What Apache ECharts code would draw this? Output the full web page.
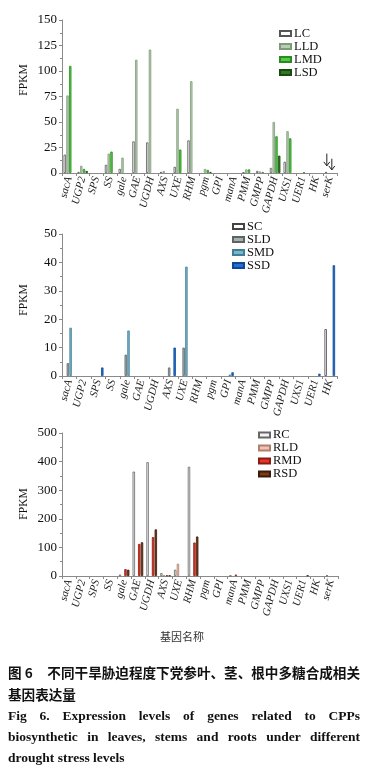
<!DOCTYPE html>
<html>
<head>
<meta charset="utf-8">
<script src="https://cdn.jsdelivr.net/npm/echarts@6/dist/echarts.min.js"></script>
<style>
html,body{margin:0;padding:0;background:#fff;}
#c{width:372px;height:768px;}
</style>
</head>
<body>
<div id="c"></div>
<script>
// ---------- data ----------
const categories = ['sacA','UGP2','SPS','SS','gale','GAE','UGDH','AXS','UXE','RHM','pgm','GPI','manA','PMM','GMPP','GAPDH','UXS1','UER1','HK','serK'];
const stemCategories = ['sacA','UGP2','SPS','SS','gale','GAE','UGDH','AXS','UXE','RHM','pgm','GPI','manA','PMM','GMPP','GAPDH','UXS1','UER1','HK'];

// leaves (FPKM)
const LC  = [18, 1, 0, 8, 4, 31, 30, 1, 6, 32, 0, 0, 0, 0.5, 2, 5, 11, 0, 0, 1];
const LLD = [76, 7, 0, 19, 15, 111, 121, 2, 63, 90, 4, 0, 0, 3.5, 1.5, 50, 41, 0, 0, 0];
const LMD = [105, 4, 0, 21, 0, 0, 0, 0, 23, 0, 3, 0, 0, 3.5, 1, 36, 34, 0.5, 0, 0];
const LSD = [0, 2, 0, 0, 0, 0, 0, 0, 0, 0, 1, 0, 0, 0, 0, 17, 0, 0, 0, 0];

// stems (FPKM)
const SC  = [0, 0, 0, 0, 0, 0, 0, 0, 0, 0, 0, 0, 0, 0, 0, 0, 0, 0, 16.5];
const SLD = [4.5, 0, 0, 0, 7.5, 0, 0, 3, 10, 0, 0, 0, 0, 0, 0, 0, 0, 0, 0];
const SMD = [17, 0, 0, 0, 16, 0, 0, 0, 38.5, 0, 0, 0.5, 0, 0, 0, 0, 0, 0, 0];
const SSD = [0, 0, 3, 0, 0, 0, 0, 10, 0, 0, 0, 1.3, 0, 0, 0, 0, 0, 0.8, 39];

// roots (FPKM)
const RC  = [0, 0, 0, 0, 5, 365, 398, 10, 22, 382, 0, 0, 1, 0, 0, 0, 0, 0, 0, 2];
const RLD = [0, 0, 0, 0, 0, 0, 0, 3, 43, 0, 0, 0, 0, 0, 0, 0, 0, 0, 0, 0];
const RMD = [0, 0, 0, 0, 24, 112, 136, 2, 0, 117, 0, 0, 5, 0, 0, 0, 0, 0, 0, 0];
const RSD = [0, 0, 0, 0, 22, 118, 163, 2, 0, 138, 0, 0, 0, 0, 0, 0, 0, 2, 0, 0];

// axis ticks
const leafTicks = {min: 0, max: 150, interval: 25};
const stemTicks = {min: 0, max: 50, interval: 10};
const rootTicks = {min: 0, max: 500, interval: 100};

const yName = 'FPKM';
const xName = '基因名称';
const captionCn1a = '图 6';
const captionCn1b = '不同干旱胁迫程度下党参叶、茎、根中多糖合成相关';
const captionCn2 = '基因表达量';
const captionEn = ['Fig 6.  Expression levels of genes related to CPPs',
                   'biosynthetic in leaves, stems and roots under different',
                   'drought stress levels'];

// ---------- styles ----------
const SERIF = "'Liberation Serif','Times New Roman',serif";
const CJK = "'Noto Sans CJK SC','Noto Sans CJK JP',sans-serif";
const styles = {
  LC:  {color:'#ffffff', borderColor:'#555555'},
  LLD: {color:'#b9cdb3', borderColor:'#7f9a7a'},
  LMD: {color:'#4fcf3f', borderColor:'#2b8a22'},
  LSD: {color:'#2f7a1e', borderColor:'#1b4a10'},
  SC:  {color:'#ffffff', borderColor:'#444444'},
  SLD: {color:'#a7afb0', borderColor:'#5d6466'},
  SMD: {color:'#7db5c9', borderColor:'#3d7f98'},
  SSD: {color:'#1f6fd4', borderColor:'#0e4796'},
  RC:  {color:'#f4f4f4', borderColor:'#666666'},
  RLD: {color:'#f4c3b3', borderColor:'#b0806e'},
  RMD: {color:'#e8342a', borderColor:'#8a1c12'},
  RSD: {color:'#7b3a18', borderColor:'#3a1a08'}
};

const grids = [
  {left: 62, top: 20, width: 275, height: 153},
  {left: 62, top: 234, width: 275, height: 142},
  {left: 62, top: 433, width: 276, height: 143}
];

function xAxis(idx, cats) {
  return {
    type: 'category', gridIndex: idx, data: cats,
    axisLine: {lineStyle: {color: '#8a8a8a', width: 1}},
    axisTick: {show: true, length: 3, lineStyle: {color: '#8a8a8a'}},
    axisLabel: {interval: 0, rotate: 75, margin: 4, fontFamily: SERIF, fontStyle: 'italic', fontSize: 11, color: '#222'}
  };
}
function yAxis(idx, t) {
  return {
    type: 'value', gridIndex: idx, min: t.min, max: t.max, interval: t.interval,
    axisLine: {show: true, lineStyle: {color: '#8a8a8a'}},
    axisTick: {show: true, length: 3, lineStyle: {color: '#8a8a8a'}},
    minorTick: {show: true, splitNumber: 2, length: 2, lineStyle: {color: '#8a8a8a'}},
    splitLine: {show: false},
    axisLabel: {fontFamily: SERIF, fontSize: 13, color: '#111', margin: 5}
  };
}
function bar(name, data, idx) {
  return {
    name: name, type: 'bar', data: data.map(v => (v === 0 ? '-' : v)), xAxisIndex: idx, yAxisIndex: idx,
    barWidth: 2.4, barGap: '14%',
    itemStyle: {color: styles[name].color, borderColor: styles[name].borderColor, borderWidth: 0.8},
    emphasis: {disabled: true}, animation: false
  };
}
function legend(names, left, top, lh) {
  return {
    data: names, orient: 'vertical', left: left, top: top, padding: 0,
    itemWidth: 11, itemHeight: 5, itemGap: 0, icon: 'rect',
    textStyle: {fontFamily: SERIF, fontSize: 12.5, color: '#111', lineHeight: lh, padding: [0, 0, 0, -2]},
    selectedMode: false
  };
}

const chart = echarts.init(document.getElementById('c'), null, {renderer: 'canvas'});

// justified text helper (measures words with canvas)
const mctx = document.createElement('canvas').getContext('2d');
function justified(text, y, x0, x1, font, just) {
  mctx.font = font;
  const words = text.split(/\s+/);
  const widths = words.map(w => mctx.measureText(w).width);
  const total = widths.reduce((a, b) => a + b, 0);
  const spaceW = mctx.measureText(' ').width;
  const gap = just ? (x1 - x0 - total) / (words.length - 1) : spaceW;
  const els = [];
  let x = x0;
  words.forEach((w, i) => {
    els.push({type: 'text', x: x, y: y, style: {text: w, font: font, fill: '#111', align: 'left', verticalAlign: 'middle'}, silent: true});
    x += widths[i] + gap;
  });
  return els;
}

const enFont = "bold 13.5px " + SERIF;
const cnFont = "bold 13.6px " + CJK;
let graphics = [
  {type: 'text', x: 24, y: 80, rotation: Math.PI / 2, style: {text: yName, font: '11.5px ' + SERIF, fill: '#111', align: 'center', verticalAlign: 'middle'}},
  {type: 'text', x: 24, y: 300, rotation: Math.PI / 2, style: {text: yName, font: '11.5px ' + SERIF, fill: '#111', align: 'center', verticalAlign: 'middle'}},
  {type: 'text', x: 24, y: 504, rotation: Math.PI / 2, style: {text: yName, font: '11.5px ' + SERIF, fill: '#111', align: 'center', verticalAlign: 'middle'}},
  {type: 'text', x: 182, y: 637, style: {text: xName, font: '11px ' + CJK, fill: '#333', align: 'center', verticalAlign: 'middle'}},
  {type: 'text', x: 8, y: 673, style: {text: captionCn1a, font: cnFont, fill: '#111', align: 'left', verticalAlign: 'middle'}},
  {type: 'text', x: 360, y: 673, style: {text: captionCn1b, font: cnFont, fill: '#111', align: 'right', verticalAlign: 'middle'}},
  {type: 'text', x: 8, y: 695, style: {text: captionCn2, font: cnFont, fill: '#111', align: 'left', verticalAlign: 'middle'}}
];
graphics = graphics.concat(justified(captionEn[0], 717, 8, 360, enFont, true));
graphics = graphics.concat(justified(captionEn[1], 738, 8, 360, enFont, true));
graphics = graphics.concat(justified(captionEn[2], 759, 8, 360, enFont, false));

chart.setOption({
  animation: false,
  backgroundColor: '#fff',
  grid: grids,
  xAxis: [xAxis(0, categories), xAxis(1, stemCategories), xAxis(2, categories)],
  yAxis: [yAxis(0, leafTicks), yAxis(1, stemTicks), yAxis(2, rootTicks)],
  legend: [
    legend(['LC', 'LLD', 'LMD', 'LSD'], 279, 27, 10.3),
    legend(['SC', 'SLD', 'SMD', 'SSD'], 232, 220, 11.5),
    legend(['RC', 'RLD', 'RMD', 'RSD'], 258, 428.5, 11)
  ],
  series: [
    bar('LC', LC, 0), bar('LLD', LLD, 0), bar('LMD', LMD, 0), bar('LSD', LSD, 0),
    bar('SC', SC, 1), bar('SLD', SLD, 1), bar('SMD', SMD, 1), bar('SSD', SSD, 1),
    bar('RC', RC, 2), bar('RLD', RLD, 2), bar('RMD', RMD, 2), bar('RSD', RSD, 2)
  ],
  graphic: graphics
});

// annotation arrows at serK (leaves chart)
function arrowEls(cat, yTop, yBot, dx) {
  const p1 = chart.convertToPixel({xAxisIndex: 0, yAxisIndex: 0}, [cat, yTop]);
  const p2 = chart.convertToPixel({xAxisIndex: 0, yAxisIndex: 0}, [cat, yBot]);
  const x = p1[0] + dx;
  return [
    {type: 'line', shape: {x1: x, y1: p1[1], x2: x, y2: p2[1]}, style: {stroke: '#222', lineWidth: 1}},
    {type: 'polyline', shape: {points: [[x - 3, p2[1] - 4], [x, p2[1]], [x + 3, p2[1] - 4]]}, style: {stroke: '#222', lineWidth: 1, fill: null}}
  ];
}
chart.setOption({graphic: graphics.concat(arrowEls('serK', 19, 7, -3.3), arrowEls('serK', 14, 3, 1.7))});
</script>
</body>
</html>
